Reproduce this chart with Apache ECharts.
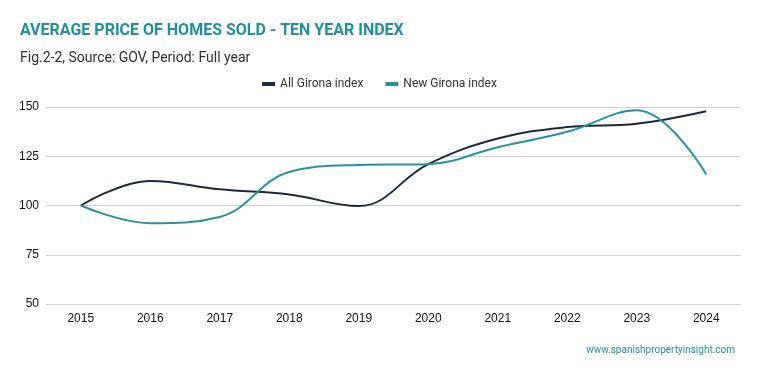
<!DOCTYPE html>
<html><head><meta charset="utf-8">
<script src="https://cdn.jsdelivr.net/npm/echarts@6/dist/echarts.min.js"></script>
<style>html,body{margin:0;padding:0;background:#fff}#c{width:759px;height:371px}</style>
</head><body><div id="c"></div>
<script>
const years = ['2015','2016','2017','2018','2019','2020','2021','2022','2023','2024'];
const allGirona = [100, 112.5, 108.2, 105.6, 99.7, 121, 134, 139.8, 141.5, 147.8];
const newGirona = [100, 91, 94.2, 117, 120.6, 121, 129.6, 137.4, 148.3, 115.8];
const seriesNames = ['All Girona index', 'New Girona index'];
const titleText = 'AVERAGE PRICE OF HOMES SOLD - TEN YEAR INDEX';
const subtitleText = 'Fig.2-2, Source: GOV, Period: Full year';
const footerText = 'www.spanishpropertyinsight.com';

const chart = echarts.init(document.getElementById('c'), null, {renderer:'canvas'});
chart.setOption({
  animation:false,
  textStyle:{fontFamily:'Roboto'},
  title:[
    {text:titleText, left:15, top:18, textStyle:{fontFamily:'Roboto', fontSize:16, fontWeight:'bold', color:'#1f8f9f'}},
    {text:subtitleText, left:15, top:46, textStyle:{fontFamily:'Roboto', fontSize:14, fontWeight:'normal', color:'#2a2f35'}},
    {text:footerText, right:19, top:340, textStyle:{fontFamily:'Roboto', fontSize:10, fontWeight:'normal', color:'#1f8f9f'}}
  ],
  legend:{
    top:73, left:'center', itemWidth:13, itemHeight:4, itemGap:22,
    icon:'rect',
    textStyle:{fontFamily:'Roboto', fontSize:12, color:'#333'},
    data:seriesNames
  },
  grid:{left:46, right:18, top:107, bottom:67},
  xAxis:{
    type:'category', data:years, boundaryGap:true,
    axisLine:{show:false}, axisTick:{show:false},
    axisLabel:{color:'#111', fontSize:12, margin:9, fontFamily:'Liberation Sans'}
  },
  yAxis:{
    type:'value', min:50, max:150, interval:25,
    axisLine:{show:false}, axisTick:{show:false},
    axisLabel:{color:'#111', fontSize:12, margin:7, fontFamily:'Liberation Sans'},
    splitLine:{lineStyle:{color:'#cfcfcf', width:1}}
  },
  series:[
    {name:seriesNames[0], type:'line', data:allGirona, smooth:0.4, symbol:'none',
     lineStyle:{color:'#1b2a3a', width:2}, itemStyle:{color:'#1b2a3a'}},
    {name:seriesNames[1], type:'line', data:newGirona, smooth:0.4, symbol:'none',
     lineStyle:{color:'#2393a2', width:2}, itemStyle:{color:'#2393a2'}}
  ]
});
</script></body></html>
